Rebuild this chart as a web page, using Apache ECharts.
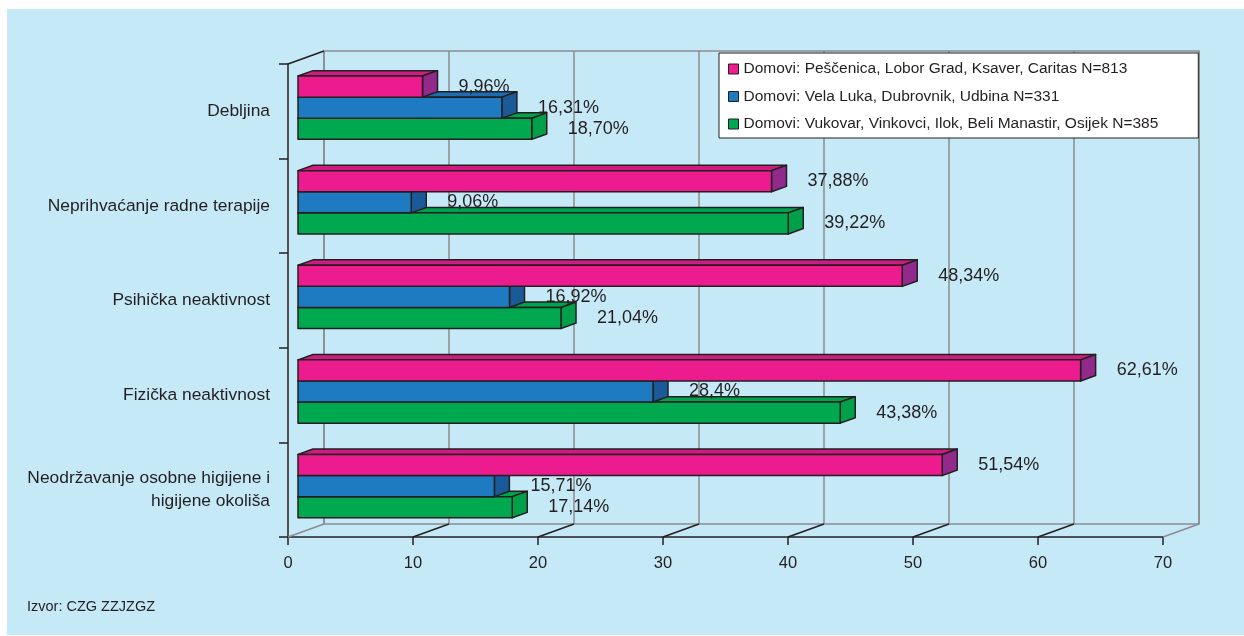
<!DOCTYPE html>
<html>
<head>
<meta charset="utf-8">
<script src="https://cdn.jsdelivr.net/npm/echarts@6/dist/echarts.min.js"></script>
<style>
  html, body { margin: 0; padding: 0; background: #fff; }
  #chart { width: 1244px; height: 636px; }
</style>
</head>
<body>
<div id="chart"></div>
<script>
// podaci
const categories = [
  'Debljina',
  'Neprihvaćanje radne terapije',
  'Psihička neaktivnost',
  'Fizička neaktivnost',
  'Neodržavanje osobne higijene i\nhigijene okoliša'
];
const seriesNames = [
  'Domovi: Peščenica, Lobor Grad, Ksaver, Caritas N=813',
  'Domovi: Vela Luka, Dubrovnik, Udbina N=331',
  'Domovi: Vukovar, Vinkovci, Ilok, Beli Manastir, Osijek N=385'
];
const pinkValues = [9.96, 37.88, 48.34, 62.61, 51.54];
const blueValues = [16.31, 9.06, 16.92, 28.4, 15.71];
const greenValues = [18.70, 39.22, 21.04, 43.38, 17.14];
const pinkLabels = ['9,96%', '37,88%', '48,34%', '62,61%', '51,54%'];
const blueLabels = ['16,31%', '9,06%', '16,92%', '28,4%', '15,71%'];
const greenLabels = ['18,70%', '39,22%', '21,04%', '43,38%', '17,14%'];
const xTicks = [0, 10, 20, 30, 40, 50, 60, 70];

const FONT = 'Liberation Sans';
const INK = '#231f20';
const WALL = '#8a8c8f';
// 3d pomaci
const DEPTH_X = 36, DEPTH_Y = 13;   // prednja ravnina -> zadnji zid
const FACE_X = 10, FACE_Y = 3.6;    // prednja strana stupca
const BAR_X = 15, BAR_Y = 5.4;      // dubina stupca

const palettes = [
  { face: '#ec1c8e', top: '#cf1b82', side: '#922a8c' },
  { face: '#1f7bc1', top: '#1c6db2', side: '#1b5a98' },
  { face: '#00a94f', top: '#00a24c', side: '#00a04a' }
];

function barRenderer(slot, labels) {
  const pal = palettes[slot];
  return function (params, api) {
    const val = api.value(0);
    const cat = api.value(1);
    const start = api.coord([0, cat]);
    const end = api.coord([val, cat]);
    const band = api.size([0, 1])[1];
    const h = band * 0.223;
    const x0 = start[0] + FACE_X;
    const x1 = end[0] + FACE_X;
    const top = start[1] - FACE_Y - 1.5 * h + slot * h;
    const bot = top + h;
    const z = 30 - slot * 10;
    const line = { stroke: INK, lineWidth: 1.5, lineJoin: 'round' };
    return {
      type: 'group',
      children: [
        {
          type: 'polygon', z2: z,
          shape: { points: [[x0, top], [x0 + BAR_X, top - BAR_Y], [x1 + BAR_X, top - BAR_Y], [x1, top]] },
          style: Object.assign({ fill: pal.top }, line)
        },
        {
          type: 'polygon', z2: z,
          shape: { points: [[x1, top], [x1 + BAR_X, top - BAR_Y], [x1 + BAR_X, bot - BAR_Y], [x1, bot]] },
          style: Object.assign({ fill: pal.side }, line)
        },
        {
          type: 'rect', z2: z + 1,
          shape: { x: x0, y: top, width: x1 - x0, height: h },
          style: Object.assign({ fill: pal.face }, line)
        },
        {
          type: 'text', z2: 100,
          x: x1 + 36, y: top + h / 2,
          style: {
            text: labels[params.dataIndex], fill: INK,
            font: '18px "' + FONT + '"', align: 'left', verticalAlign: 'middle'
          }
        }
      ]
    };
  };
}

// dijagonale poda i gornji lijevi rub
function frameRenderer(params, api) {
  const v = api.value(0);
  const cs = params.coordSys;
  const floorY = cs.y + cs.height;
  const x = api.coord([v, 0])[0];
  const edge = v === xTicks[0] || v === xTicks[xTicks.length - 1];
  const children = [{
    type: 'line',
    shape: { x1: x, y1: floorY, x2: x + DEPTH_X, y2: floorY - DEPTH_Y },
    style: { stroke: edge ? WALL : INK, lineWidth: 1.5 }
  }];
  if (v === xTicks[0]) {
    children.push({
      type: 'line',
      shape: { x1: x, y1: cs.y, x2: x + DEPTH_X, y2: cs.y - DEPTH_Y },
      style: { stroke: INK, lineWidth: 1.5 }
    });
  }
  return { type: 'group', children: children };
}

const chart = echarts.init(document.getElementById('chart'));
chart.setOption({
  animation: false,
  textStyle: { fontFamily: FONT, color: INK },
  graphic: [
    {
      type: 'rect', z: -100, silent: true,
      shape: { x: 7, y: 9, width: 1237, height: 626 },
      style: { fill: '#c6e9f8' }
    },
    {
      type: 'text', left: 27, top: 599,
      style: { text: 'Izvor: CZG ZZJZGZ', fill: INK, font: '14.5px "' + FONT + '"' }
    }
  ],
  legend: {
    data: seriesNames,
    orient: 'vertical',
    left: 719, top: 53,
    backgroundColor: '#fff',
    borderColor: INK, borderWidth: 1,
    borderRadius: 0,
    padding: [8, 40, 6, 9],
    itemGap: 11.5,
    icon: 'rect',
    itemWidth: 10, itemHeight: 10,
    itemStyle: { borderColor: INK, borderWidth: 1 },
    textStyle: { fontSize: 15.5, color: INK, fontFamily: FONT, padding: [0, 0, 0, 0] }
  },
  grid: [
    { left: 288, right: 81, top: 64, bottom: 99 },
    { left: 324, right: 45, top: 51, bottom: 112, show: true, borderColor: WALL, borderWidth: 1.5 }
  ],
  xAxis: [
    {
      gridIndex: 0, type: 'value', min: 0, max: 70, interval: 10,
      axisLine: { show: true, lineStyle: { color: INK, width: 1.5 } },
      axisTick: { show: true, length: 8, lineStyle: { color: INK, width: 1.5 } },
      axisLabel: { fontSize: 16.5, color: INK, margin: 18 },
      splitLine: { show: false }
    },
    {
      gridIndex: 1, type: 'value', min: 0, max: 70, interval: 10,
      axisLine: { show: false }, axisTick: { show: false }, axisLabel: { show: false },
      splitLine: { show: true, lineStyle: { color: WALL, width: 1.5 } }
    }
  ],
  yAxis: [
    {
      gridIndex: 0, type: 'category', data: categories, inverse: true,
      axisLine: { show: true, lineStyle: { color: INK, width: 1.5 } },
      axisTick: { show: true, length: 9, lineStyle: { color: INK, width: 1.5 } },
      axisLabel: { fontSize: 17.4, color: INK, margin: 18, lineHeight: 23, align: 'right' },
      splitLine: { show: false }
    },
    { gridIndex: 1, type: 'value', show: false, min: 0, max: 1 }
  ],
  series: [
    {
      type: 'custom', name: 'frame', xAxisIndex: 0, yAxisIndex: 0, silent: true,
      data: xTicks.map(v => [v, 0]),
      renderItem: frameRenderer
    },
    {
      type: 'custom', name: seriesNames[0], xAxisIndex: 0, yAxisIndex: 0,
      itemStyle: { color: palettes[0].face, borderColor: INK, borderWidth: 1 },
      data: pinkValues.map((v, i) => [v, i]),
      renderItem: barRenderer(0, pinkLabels)
    },
    {
      type: 'custom', name: seriesNames[1], xAxisIndex: 0, yAxisIndex: 0,
      itemStyle: { color: palettes[1].face, borderColor: INK, borderWidth: 1 },
      data: blueValues.map((v, i) => [v, i]),
      renderItem: barRenderer(1, blueLabels)
    },
    {
      type: 'custom', name: seriesNames[2], xAxisIndex: 0, yAxisIndex: 0,
      itemStyle: { color: palettes[2].face, borderColor: INK, borderWidth: 1 },
      data: greenValues.map((v, i) => [v, i]),
      renderItem: barRenderer(2, greenLabels)
    }
  ]
});
</script>
</body>
</html>
